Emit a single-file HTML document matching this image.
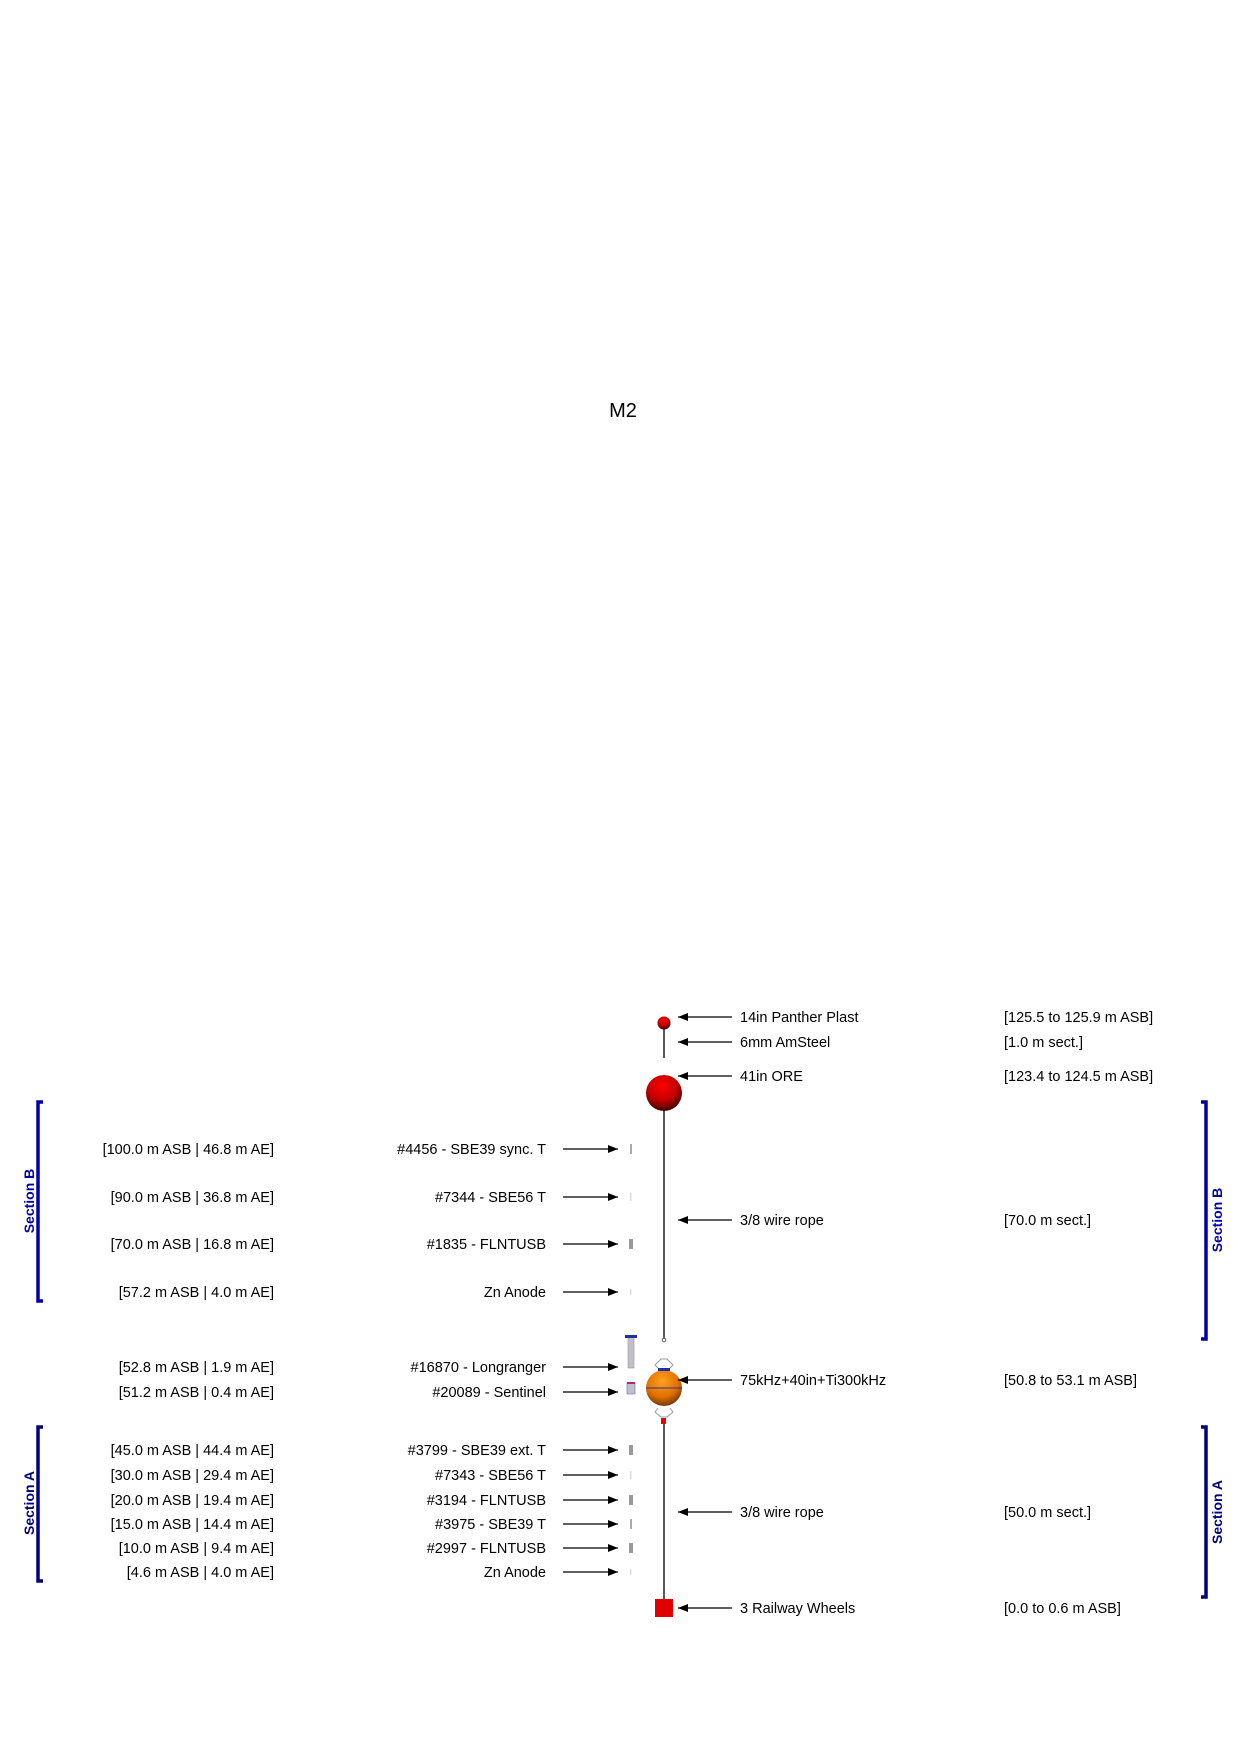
<!DOCTYPE html>
<html><head><meta charset="utf-8"><style>html,body{margin:0;padding:0;background:#fff}</style></head>
<body>
<svg width="1240" height="1754" viewBox="0 0 1240 1754" xmlns="http://www.w3.org/2000/svg" font-family="Liberation Sans, Arial, sans-serif">
<defs>
<radialGradient id="red" cx="0.45" cy="0.3" r="0.7"><stop offset="0" stop-color="#f00"/><stop offset="0.6" stop-color="#c00000"/><stop offset="1" stop-color="#400000"/></radialGradient>
<radialGradient id="orn" cx="0.45" cy="0.3" r="0.75"><stop offset="0" stop-color="#ffa020"/><stop offset="0.6" stop-color="#e07000"/><stop offset="1" stop-color="#603000"/></radialGradient>
<marker id="al" markerWidth="10" markerHeight="8" refX="10" refY="4" orient="auto-start-reverse" markerUnits="userSpaceOnUse"><path d="M10,4 L0,0 L0,8 Z" fill="#000"/></marker>
</defs>
<g transform="translate(3,5)">
<text x="620" y="412" font-size="20" text-anchor="middle">M2</text>

<g stroke="#000" stroke-width="1.3">
<line x1="661" y1="1024" x2="661" y2="1053"/>
<line x1="661" y1="1100" x2="661" y2="1333"/>
<line x1="661" y1="1418" x2="661" y2="1596"/>
</g>
<circle cx="661" cy="1335" r="1.8" fill="#fff" stroke="#555"/>
<circle cx="661" cy="1018" r="6.5" fill="url(#red)"/>
<circle cx="661" cy="1088" r="18" fill="url(#red)"/>
<g stroke="#999" fill="none" stroke-width="1">
<path d="M655,1363 L652,1360 L658,1354 L664,1354 L670,1360 L667,1363"/>
<path d="M655,1403 L652,1407 L658,1412 L664,1412 L670,1407 L667,1403"/>
</g>
<circle cx="661" cy="1383" r="18" fill="url(#orn)"/>
<line x1="643" y1="1383" x2="679" y2="1383" stroke="#3030a0" stroke-width="1"/>
<rect x="655" y="1363" width="12" height="3" fill="#2030a0"/>
<rect x="658" y="1413" width="5" height="6" fill="#e00"/>
<rect x="652" y="1594" width="18" height="18" fill="#e00000"/>

<g stroke="#000" stroke-width="1.2" marker-start="url(#al)">
<line x1="675" y1="1012" x2="729" y2="1012"/>
<line x1="675" y1="1037" x2="729" y2="1037"/>
<line x1="675" y1="1071" x2="729" y2="1071"/>
<line x1="675" y1="1215" x2="729" y2="1215"/>
<line x1="675" y1="1375" x2="729" y2="1375"/>
<line x1="675" y1="1507" x2="729" y2="1507"/>
<line x1="675" y1="1603" x2="729" y2="1603"/>
</g>
<g font-size="14.5">
<text x="737" y="1017">14in Panther Plast</text>
<text x="737" y="1042">6mm AmSteel</text>
<text x="737" y="1076">41in ORE</text>
<text x="737" y="1220">3/8 wire rope</text>
<text x="737" y="1380">75kHz+40in+Ti300kHz</text>
<text x="737" y="1512">3/8 wire rope</text>
<text x="737" y="1608">3 Railway Wheels</text>
<text x="1001" y="1017">[125.5 to 125.9 m ASB]</text>
<text x="1001" y="1042">[1.0 m sect.]</text>
<text x="1001" y="1076">[123.4 to 124.5 m ASB]</text>
<text x="1001" y="1220">[70.0 m sect.]</text>
<text x="1001" y="1380">[50.8 to 53.1 m ASB]</text>
<text x="1001" y="1512">[50.0 m sect.]</text>
<text x="1001" y="1608">[0.0 to 0.6 m ASB]</text>
</g>

<g stroke="#000" stroke-width="1.2" marker-end="url(#al)">
<line x1="560" y1="1144" x2="615" y2="1144"/>
<line x1="560" y1="1192" x2="615" y2="1192"/>
<line x1="560" y1="1239" x2="615" y2="1239"/>
<line x1="560" y1="1287" x2="615" y2="1287"/>
<line x1="560" y1="1362" x2="615" y2="1362"/>
<line x1="560" y1="1387" x2="615" y2="1387"/>
<line x1="560" y1="1445" x2="615" y2="1445"/>
<line x1="560" y1="1470" x2="615" y2="1470"/>
<line x1="560" y1="1495" x2="615" y2="1495"/>
<line x1="560" y1="1519" x2="615" y2="1519"/>
<line x1="560" y1="1543" x2="615" y2="1543"/>
<line x1="560" y1="1567" x2="615" y2="1567"/>
</g>
<g fill="#aaa">
<rect x="627" y="1139" width="2" height="10"/>
<rect x="627" y="1188" width="1.5" height="8" fill="#ddd"/>
<rect x="626" y="1234" width="4" height="10" fill="#999"/>
<rect x="627" y="1284" width="1.5" height="6" fill="#ddd"/>
<rect x="626" y="1440" width="4" height="10" fill="#999"/>
<rect x="627" y="1466" width="1.5" height="8" fill="#ddd"/>
<rect x="626" y="1490" width="4" height="10" fill="#999"/>
<rect x="627" y="1514" width="2" height="10"/>
<rect x="626" y="1538" width="4" height="10" fill="#999"/>
<rect x="627" y="1564" width="1.5" height="6" fill="#ddd"/>
</g>
<rect x="625" y="1332" width="6" height="31" fill="#c0c0c8" stroke="#888" stroke-width="0.5"/>
<rect x="622" y="1330" width="12" height="3" fill="#2030a0"/>
<rect x="624" y="1378" width="8" height="11" fill="#c0c0c8" stroke="#66c" stroke-width="0.6"/>
<rect x="624" y="1377" width="8" height="2" fill="#a03070"/>

<g font-size="14.5" text-anchor="end">
<text x="543" y="1149">#4456 - SBE39 sync. T</text>
<text x="543" y="1197">#7344 - SBE56 T</text>
<text x="543" y="1244">#1835 - FLNTUSB</text>
<text x="543" y="1292">Zn Anode</text>
<text x="543" y="1367">#16870 - Longranger</text>
<text x="543" y="1392">#20089 - Sentinel</text>
<text x="543" y="1450">#3799 - SBE39 ext. T</text>
<text x="543" y="1475">#7343 - SBE56 T</text>
<text x="543" y="1500">#3194 - FLNTUSB</text>
<text x="543" y="1524">#3975 - SBE39 T</text>
<text x="543" y="1548">#2997 - FLNTUSB</text>
<text x="543" y="1572">Zn Anode</text>
<text x="271" y="1149">[100.0 m ASB | 46.8 m AE]</text>
<text x="271" y="1197">[90.0 m ASB | 36.8 m AE]</text>
<text x="271" y="1244">[70.0 m ASB | 16.8 m AE]</text>
<text x="271" y="1292">[57.2 m ASB | 4.0 m AE]</text>
<text x="271" y="1367">[52.8 m ASB | 1.9 m AE]</text>
<text x="271" y="1392">[51.2 m ASB | 0.4 m AE]</text>
<text x="271" y="1450">[45.0 m ASB | 44.4 m AE]</text>
<text x="271" y="1475">[30.0 m ASB | 29.4 m AE]</text>
<text x="271" y="1500">[20.0 m ASB | 19.4 m AE]</text>
<text x="271" y="1524">[15.0 m ASB | 14.4 m AE]</text>
<text x="271" y="1548">[10.0 m ASB | 9.4 m AE]</text>
<text x="271" y="1572">[4.6 m ASB | 4.0 m AE]</text>
</g>

<g fill="none" stroke-width="3.5">
<path d="M40,1097 L35,1097 L35,1296 L40,1296" stroke="#0000a8"/>
<path d="M40,1422 L35,1422 L35,1576 L40,1576" stroke="#000080"/>
<path d="M1198,1097 L1203,1097 L1203,1334 L1198,1334" stroke="#0000a8"/>
<path d="M1198,1422 L1203,1422 L1203,1592 L1198,1592" stroke="#000080"/>
</g>
<g font-size="14" font-weight="bold" text-anchor="middle">
<text transform="translate(31,1196) rotate(-90)" fill="#0000a8">Section B</text>
<text transform="translate(31,1498) rotate(-90)" fill="#000080">Section A</text>
<text transform="translate(1219,1215) rotate(-90)" fill="#0000a8">Section B</text>
<text transform="translate(1219,1507) rotate(-90)" fill="#000080">Section A</text>
</g>
</g>
</svg>
</body></html>
